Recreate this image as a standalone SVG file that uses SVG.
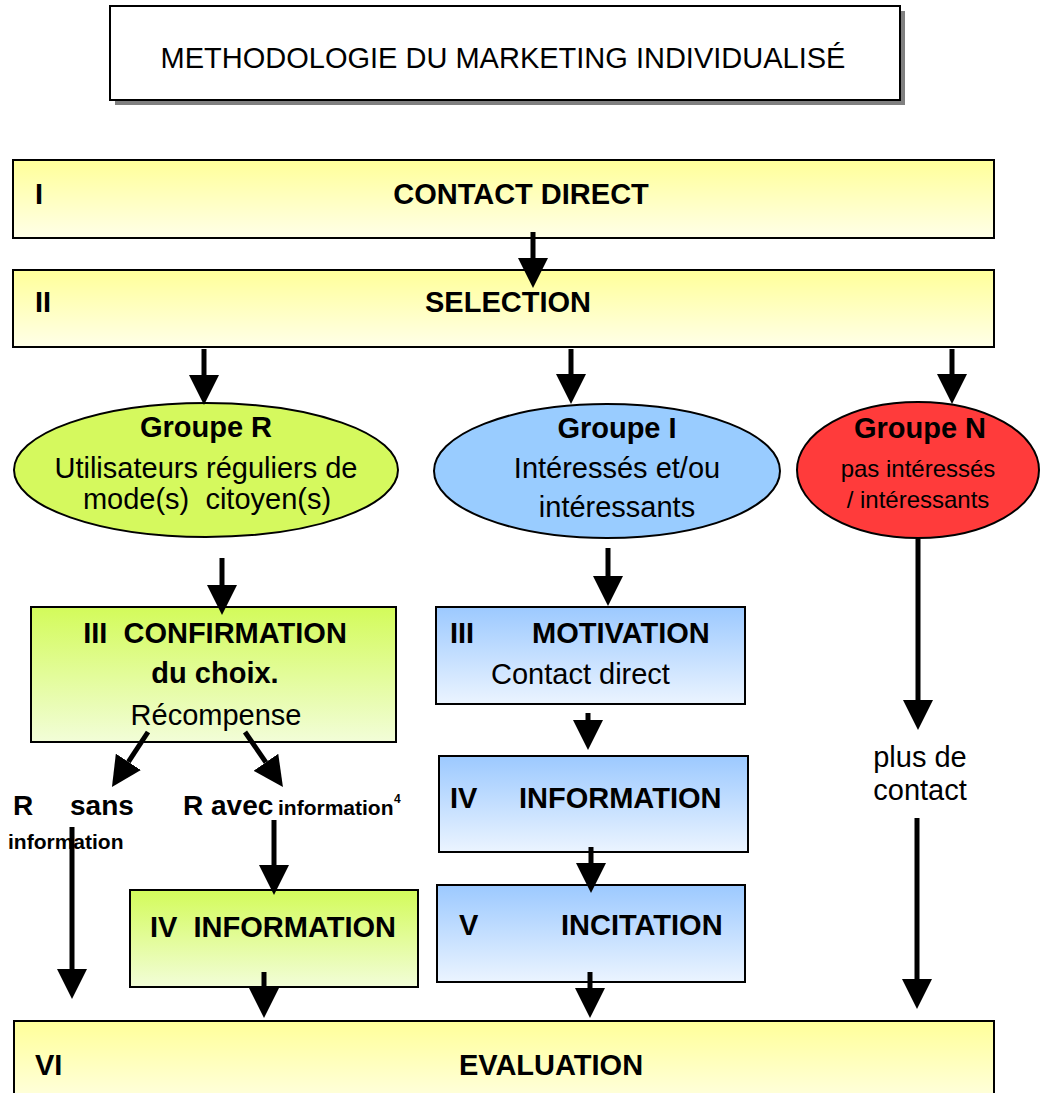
<svg xmlns="http://www.w3.org/2000/svg" width="1040" height="1093" viewBox="0 0 1040 1093">
<style>
text{font-family:"Liberation Sans",Arial,sans-serif;fill:#000}
.b{font-weight:bold;font-size:29px}
.r{font-size:29px}
.m{text-anchor:middle}
.pre{white-space:pre}
.box{stroke:#000;stroke-width:2}
.cn{stroke:#000;stroke-width:5;fill:none;marker-end:url(#ah)}
</style>
<defs>
<linearGradient id="gy" x1="0" y1="0" x2="0" y2="1"><stop offset="0" stop-color="#ffff99"/><stop offset="1" stop-color="#ffffe8"/></linearGradient>
<linearGradient id="gg" x1="0" y1="0" x2="0" y2="1"><stop offset="0" stop-color="#d3fb5a"/><stop offset="1" stop-color="#f2fdd8"/></linearGradient>
<linearGradient id="gb" x1="0" y1="0" x2="0" y2="1"><stop offset="0" stop-color="#9cc9ff"/><stop offset="1" stop-color="#ebf4ff"/></linearGradient>
<marker id="ah" markerUnits="userSpaceOnUse" markerWidth="30" markerHeight="30" viewBox="0 0 30 30" refX="0" refY="15" orient="auto"><path d="M0,0 L30,15 L0,30 z" fill="#000"/></marker>
</defs>

<g id="title">
<rect x="115" y="11" width="790" height="94" fill="#808080"/>
<rect x="110" y="6" width="790" height="94" fill="#fff" class="box"/>
<text x="503" y="68" class="r m">METHODOLOGIE DU MARKETING INDIVIDUALISÉ</text>
</g>

<g id="n1">
<rect x="13" y="160" width="981" height="78" fill="url(#gy)" class="box"/>
<text x="35" y="204" class="b">I</text>
<text x="521" y="204" class="b m">CONTACT DIRECT</text>
</g>

<g id="n2">
<rect x="13" y="270" width="981" height="77" fill="url(#gy)" class="box"/>
<text x="35" y="312" class="b">II</text>
<text x="508" y="312" class="b m">SELECTION</text>
</g>

<g id="groupeR">
<ellipse cx="206" cy="470" rx="192" ry="67" fill="#d5f95e" class="box"/>
<text x="206" y="437" class="b m">Groupe R</text>
<text x="206" y="478" class="r m">Utilisateurs réguliers de</text>
<text x="207" y="509" class="r m pre">mode(s)  citoyen(s)</text>
</g>

<g id="groupeI">
<ellipse cx="607" cy="471" rx="173" ry="67" fill="#99ccff" class="box"/>
<text x="617" y="438" class="b m">Groupe I</text>
<text x="617" y="478" class="r m">Intéressés et/ou</text>
<text x="617" y="517" class="r m">intéressants</text>
</g>

<g id="groupeN">
<ellipse cx="918" cy="470" rx="121" ry="68" fill="#ff3b3b" class="box"/>
<text x="920" y="438" class="b m">Groupe N</text>
<text x="918" y="477" class="m" style="font-size:24px">pas intéressés</text>
<text x="918" y="508" class="m" style="font-size:24px">/ intéressants</text>
</g>

<g id="confirmation">
<rect x="31" y="607" width="365" height="135" fill="url(#gg)" class="box"/>
<text x="215" y="643" class="b m pre">III  CONFIRMATION</text>
<text x="215" y="683" class="b m">du choix.</text>
<text x="216" y="725" class="r m">Récompense</text>
</g>

<g id="labelRsans">
<text x="13" y="815" class="b" style="font-size:28px">R</text>
<text x="70" y="815" class="b" style="font-size:28px">sans</text>
<text x="8" y="849" class="b" style="font-size:21px">information</text>
</g>

<g id="labelRavec">
<text x="183" y="815" class="b" style="font-size:28px">R avec</text>
<text x="278" y="815" class="b" style="font-size:21px">information</text>
<text x="394" y="803" class="b" style="font-size:12px">4</text>
</g>

<g id="infoR">
<rect x="130" y="890" width="288" height="97" fill="url(#gg)" class="box"/>
<text x="150" y="937" class="b pre">IV  INFORMATION</text>
</g>

<g id="motivation">
<rect x="436" y="607" width="309" height="97" fill="url(#gb)" class="box"/>
<text x="450" y="643" class="b">III</text>
<text x="532" y="643" class="b">MOTIVATION</text>
<text x="491" y="684" class="r">Contact direct</text>
</g>

<g id="infoI">
<rect x="439" y="756" width="309" height="96" fill="url(#gb)" class="box"/>
<text x="450" y="808" class="b">IV</text>
<text x="519" y="808" class="b">INFORMATION</text>
</g>

<g id="incitation">
<rect x="437" y="885" width="308" height="97" fill="url(#gb)" class="box"/>
<text x="459" y="935" class="b">V</text>
<text x="561" y="935" class="b">INCITATION</text>
</g>

<g id="plusContact">
<text x="920" y="767" class="r m">plus de</text>
<text x="920" y="800" class="r m">contact</text>
</g>

<g id="evaluation">
<rect x="14" y="1021" width="980" height="90" fill="url(#gy)" class="box"/>
<text x="35" y="1075" class="b">VI</text>
<text x="551" y="1075" class="b m">EVALUATION</text>
</g>

<g id="connectors">
<line x1="533" y1="232" x2="533" y2="258" class="cn"/>
<line x1="204" y1="349" x2="204" y2="375" class="cn"/>
<line x1="571" y1="349" x2="571" y2="374" class="cn"/>
<line x1="952" y1="349" x2="952" y2="374" class="cn"/>
<line x1="222" y1="558" x2="222" y2="585" class="cn"/>
<line x1="608" y1="548" x2="608" y2="576" class="cn"/>
<line x1="918" y1="539" x2="918" y2="700" class="cn"/>
<line x1="917" y1="818" x2="917" y2="979" class="cn"/>
<line x1="588" y1="713" x2="588" y2="720" class="cn"/>
<line x1="591" y1="847" x2="591" y2="863" class="cn"/>
<line x1="590" y1="972" x2="590" y2="988" class="cn"/>
<line x1="148" y1="732" x2="128.4" y2="761.9" class="cn"/>
<line x1="245" y1="732" x2="265.9" y2="762.3" class="cn"/>
<line x1="72" y1="827" x2="72" y2="969" class="cn"/>
<line x1="274" y1="820" x2="274" y2="865" class="cn"/>
<line x1="264" y1="972" x2="264" y2="988" class="cn"/>
</g>
</svg>
